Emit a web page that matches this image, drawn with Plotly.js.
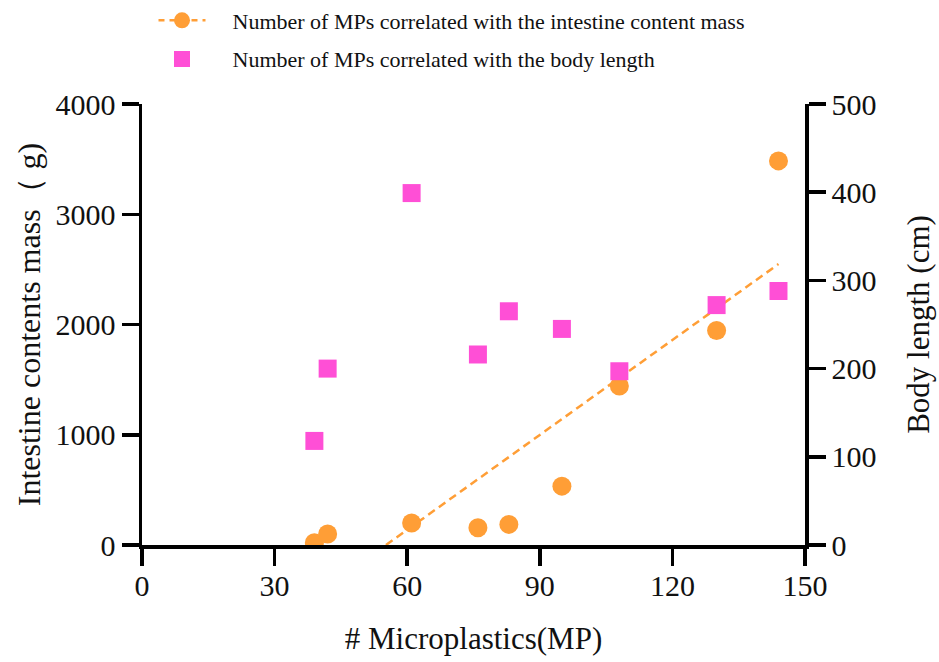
<!DOCTYPE html>
<html>
<head>
<meta charset="utf-8">
<script src="https://cdn.plot.ly/plotly-3.0.1.min.js"></script>
<style>html,body{margin:0;padding:0;background:#fff;}#chart{width:939px;height:662px;}</style>
</head>
<body>
<div id="chart"></div>
<script>
// Data
const microplastics = [39, 42, 61, 76, 83, 95, 108, 130, 144];
const intestineMass = [20, 100, 200, 157, 187, 534, 1442, 1946, 3484];
const bodyLength = [118, 200, 399, 216, 265, 245, 197, 272, 288];
const trendX = [55.2, 144];
const trendY = [0, 2548];
const xTicks = [0, 30, 60, 90, 120, 150];
const yLeftTicks = [0, 1000, 2000, 3000, 4000];
const yRightTicks = [0, 100, 200, 300, 400, 500];

const ORANGE = '#FF9E36';
const MAGENTA = '#FF4FD6';
const FONT = 'Liberation Serif, Times New Roman, serif';
const PAD = '\u00A0\u00A0\u00A0\u00A0';

const traces = [
  {
    x: trendX, y: trendY, mode: 'lines', type: 'scatter', showlegend: false,
    line: {color: ORANGE, width: 2.5, dash: '8px,5px'}, hoverinfo: 'skip'
  },
  {
    x: microplastics, y: intestineMass, mode: 'markers', type: 'scatter', showlegend: false,
    marker: {symbol: 'circle', size: 19, color: ORANGE}
  },
  {
    x: microplastics, y: bodyLength, mode: 'markers', type: 'scatter', yaxis: 'y2', showlegend: false,
    marker: {symbol: 'square', size: 18, color: MAGENTA}
  },
  {
    x: [null], y: [null], mode: 'lines+markers', type: 'scatter',
    name: PAD + 'Number of MPs correlated with the intestine content mass', legendgroup: 'a',
    line: {color: ORANGE, width: 2.5, dash: '6px,5px'}, marker: {symbol: 'circle', size: 16, color: ORANGE}
  },
  {
    x: [null], y: [null], mode: 'markers', type: 'scatter', yaxis: 'y2',
    name: PAD + 'Number of MPs correlated with the body length', legendgroup: 'b',
    marker: {symbol: 'square', size: 16, color: MAGENTA}
  }
];

const axisCommon = {
  showline: true, linecolor: '#000', linewidth: 3.5,
  ticks: 'outside', ticklen: 17, tickwidth: 3.5, tickcolor: '#000',
  showgrid: false, zeroline: false,
  tickfont: {family: FONT, size: 30, color: '#111'}
};

const layout = {
  width: 939, height: 662,
  margin: {l: 142, r: 134, t: 104, b: 117, autoexpand: false},
  paper_bgcolor: '#fff', plot_bgcolor: '#fff',
  font: {family: FONT, color: '#111'},
  showlegend: true,
  legend: {
    x: (153.5 - 142) / 663, y: 1.237, xanchor: 'left', yanchor: 'top',
    font: {family: FONT, size: 22, color: '#111'},
    itemwidth: 47, traceorder: 'grouped', tracegroupgap: 7,
    bgcolor: 'rgba(0,0,0,0)'
  },
  xaxis: Object.assign({}, axisCommon, {
    range: [0, 150], tickvals: xTicks, ticktext: xTicks.map(String),
    ticklabelstandoff: -6,
    title: {text: '# Microplastics(MP)', font: {family: FONT, size: 31, color: '#111'}, standoff: 28}
  }),
  yaxis: Object.assign({}, axisCommon, {
    range: [0, 4000], tickvals: yLeftTicks, ticktext: yLeftTicks.map(String),
    title: {text: 'Intestine contents mass（ g)', font: {family: FONT, size: 32, color: '#111'}, standoff: 6}
  }),
  yaxis2: Object.assign({}, axisCommon, {
    range: [0, 500], tickvals: yRightTicks, ticktext: yRightTicks.map(String),
    overlaying: 'y', side: 'right',
    title: {text: 'Body length (cm)', font: {family: FONT, size: 31, color: '#111'}, standoff: 33}
  })
};

Plotly.newPlot('chart', traces, layout, {displayModeBar: false, staticPlot: true});
</script>
</body>
</html>
